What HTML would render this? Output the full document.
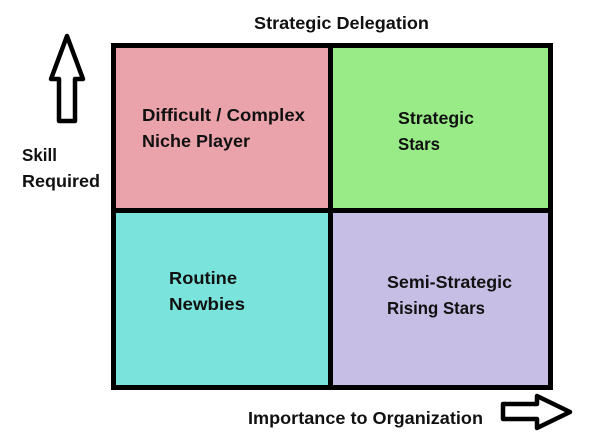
<!DOCTYPE html>
<html><head><meta charset="utf-8"><style>
html,body{margin:0;padding:0;background:#fff;width:602px;height:443px;overflow:hidden}
text{font-family:"Liberation Sans",Arial,sans-serif;font-weight:bold;font-size:17.5px;fill:#111}
</style></head><body>
<svg width="602" height="443" viewBox="0 0 602 443" xmlns="http://www.w3.org/2000/svg">
<rect x="0" y="0" width="602" height="443" fill="#fff"/>
<rect x="113" y="45" width="217" height="166" fill="#eaa2ab"/>
<rect x="330" y="45" width="221" height="166" fill="#99eb87"/>
<rect x="113" y="211" width="217" height="177" fill="#7ae3dc"/>
<rect x="330" y="211" width="221" height="177" fill="#c7bee5"/>
<rect x="113.5" y="45.5" width="437" height="342" fill="none" stroke="#000" stroke-width="5"/>
<line x1="330.5" y1="45" x2="330.5" y2="388" stroke="#000" stroke-width="5"/>
<line x1="113" y1="210.5" x2="551" y2="210.5" stroke="#000" stroke-width="5"/>
<polygon points="67,36 83,79 75,79 75,121 59,121 59,79 51,79" fill="#fff" stroke="#000" stroke-width="4.5" stroke-linejoin="round"/>
<polygon points="570,412 537,396 537,404 503,404 503,419 537,419 537,428" fill="#fff" stroke="#000" stroke-width="4.5" stroke-linejoin="round"/>
<text x="254" y="29" textLength="175" lengthAdjust="spacingAndGlyphs">Strategic Delegation</text>
<text x="22" y="161" textLength="35" lengthAdjust="spacingAndGlyphs">Skill</text>
<text x="22" y="187" textLength="78" lengthAdjust="spacingAndGlyphs">Required</text>
<text x="142" y="121" textLength="163" lengthAdjust="spacingAndGlyphs">Difficult / Complex</text>
<text x="142" y="147" textLength="108" lengthAdjust="spacingAndGlyphs">Niche Player</text>
<text x="398" y="124" textLength="76" lengthAdjust="spacingAndGlyphs">Strategic</text>
<text x="398" y="150" textLength="42" lengthAdjust="spacingAndGlyphs">Stars</text>
<text x="169" y="284" textLength="68" lengthAdjust="spacingAndGlyphs">Routine</text>
<text x="169" y="310" textLength="76" lengthAdjust="spacingAndGlyphs">Newbies</text>
<text x="387" y="288" textLength="125" lengthAdjust="spacingAndGlyphs">Semi-Strategic</text>
<text x="387" y="314" textLength="98" lengthAdjust="spacingAndGlyphs">Rising Stars</text>
<text x="248" y="424" textLength="235" lengthAdjust="spacingAndGlyphs">Importance to Organization</text>
</svg>
</body></html>
